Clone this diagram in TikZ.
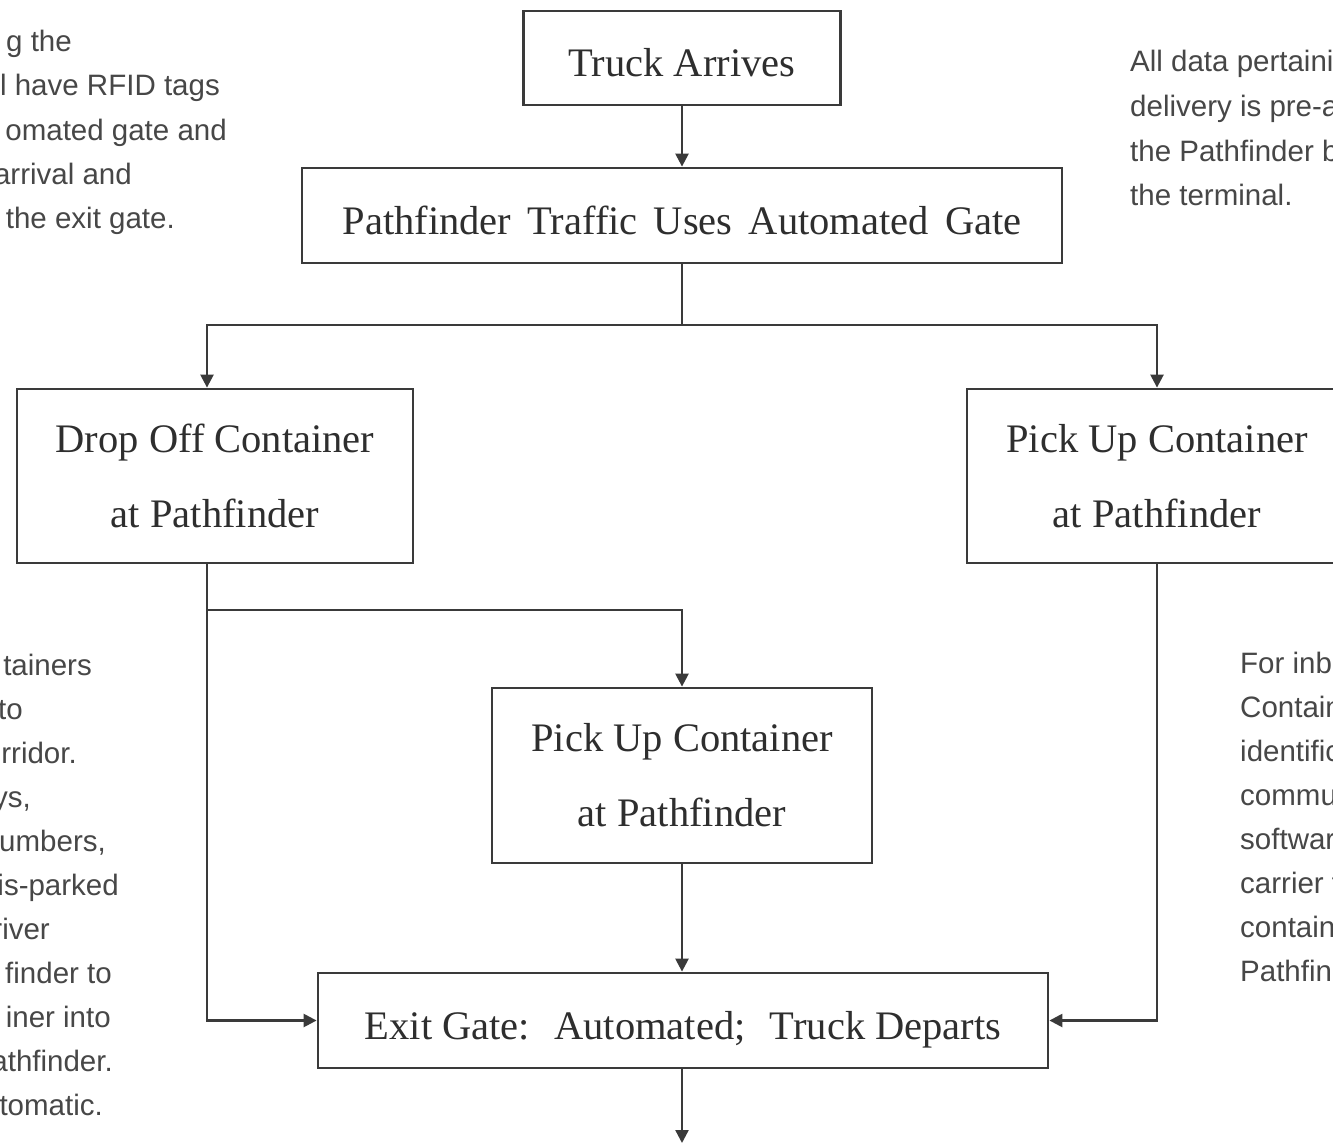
\documentclass[tikz,border=0pt]{standalone}
\usepackage{fontspec}
\setmainfont{Liberation Serif}
\newfontfamily\notefont{Liberation Sans}
\usetikzlibrary{arrows.meta}
\definecolor{ink}{HTML}{2E2E2E}
\definecolor{linegray}{HTML}{3A3A3A}
\definecolor{notegray}{HTML}{474747}

\begin{document}
\begin{tikzpicture}[x=1pt,y=-1pt,
  stepbox/.style={draw=linegray, line width=2.8pt, rectangle, inner sep=0pt,
    font=\fontsize{40.5}{75}\selectfont, text=ink},
  onebox/.style={stepbox, text height=37pt, text depth=0pt},
  boxline/.style={font=\fontsize{40.5}{75}\selectfont, text=ink, inner sep=0pt, anchor=base},
  link/.style={draw=linegray, line width=2.4pt},
  flow/.style={link, -{Triangle[length=13pt,width=13pt]}},
  note/.style={font=\notefont\fontsize{29.5}{44}\selectfont, text=notegray, inner sep=0pt},
]
\path[use as bounding box] (0,0) rectangle (1333,1145);
\clip (0,0) rectangle (1333,1145);
\fill[white] (0,0) rectangle (1333,1145);

% process boxes
\node[onebox, minimum width=317pt, minimum height=94pt] (truck) at (682,58) {Truck Arrives};
\node[onebox, minimum width=760pt, minimum height=95pt] (gate) at (682,215.5)
  {\spaceskip=0.4em\relax Pathfinder Traffic Uses Automated Gate};

\node[stepbox, minimum width=396pt, minimum height=174pt] (drop) at (215,476) {};
\node[boxline] (dropA) at ([yshift=24pt]drop.center) {Drop Off Container};
\node[boxline] (dropB) at ([yshift=-51pt]drop.center) {at Pathfinder};

\node[stepbox, minimum width=380pt, minimum height=174pt] (pickR) at (1157,476) {};
\node[boxline] (pickRA) at ([yshift=24pt]pickR.center) {Pick Up Container};
\node[boxline] (pickRB) at ([yshift=-51pt]pickR.center) {at Pathfinder};

\node[stepbox, minimum width=380pt, minimum height=175pt] (pickM) at (682,775.5) {};
\node[boxline] (pickMA) at ([yshift=24pt]pickM.center) {Pick Up Container};
\node[boxline] (pickMB) at ([yshift=-51pt]pickM.center) {at Pathfinder};

\node[onebox, minimum width=730pt, minimum height=95pt] (exit) at (683,1020.5)
  {Exit Gate:\hspace{0.6em}Automated;\hspace{0.6em}Truck Departs};

% connectors
\coordinate (split) at (682,325);
\coordinate (lbranch) at (207,325);
\coordinate (rbranch) at (1157,325);
\coordinate (ltap) at (207,610);
\coordinate (out) at (682,1143);

\draw[flow] (truck.south) -- (gate.north);
\draw[link] (gate.south) -- (split);
\draw[flow] (split) -- (lbranch) -- (lbranch |- drop.north);
\draw[flow] (split) -- (rbranch) -- (pickR.north);
\draw[flow] (lbranch |- drop.south) -- (lbranch |- exit.west) -- (exit.west);
\draw[flow] (ltap) -| (pickM.north);
\draw[flow] (pickM.south) -- (pickM.south |- exit.north);
\draw[flow] (pickR.south) -- (pickR.south |- exit.east) -- (exit.east);
\draw[flow] (exit.south -| out) -- (out);

% side notes
\foreach \xe/\yb/\txt [count=\i] in {72/52/{g the}, 220/96/{l have RFID tags},
    227/140/{omated gate and}, 132/184/{arrival and}, 175/228/{the exit gate.}}
  \node[note, anchor=base east] (tl\i) at (\xe,\yb) {\txt};

\foreach \yb/\txt [count=\i] in {72/{All data pertaini}, 116.5/{delivery is pre-a},
    161/{the Pathfinder b}, 205.5/{the terminal.}}
  \node[note, anchor=base west] (tr\i) at (1130,\yb) {\txt};

\foreach \xe/\txt [count=\i] in {92/{tainers}, 23/{to}, 77/{rridor.}, 31/{ys,},
    106/{umbers,}, 119/{is-parked}, 50/{river}, 112/{finder to}, 111/{iner into},
    113/{athfinder.}, 103/{tomatic.}}
  \node[note, anchor=base east] (ml\i) at (\xe,{675+44*(\i-1)}) {\txt};

\foreach \txt [count=\i] in {For inb, Contain, identific, commun, software,
    carrier t, contain, Pathfind}
  \node[note, anchor=base west] (mr\i) at (1240,{673+44*(\i-1)}) {\txt};
\end{tikzpicture}
\end{document}
